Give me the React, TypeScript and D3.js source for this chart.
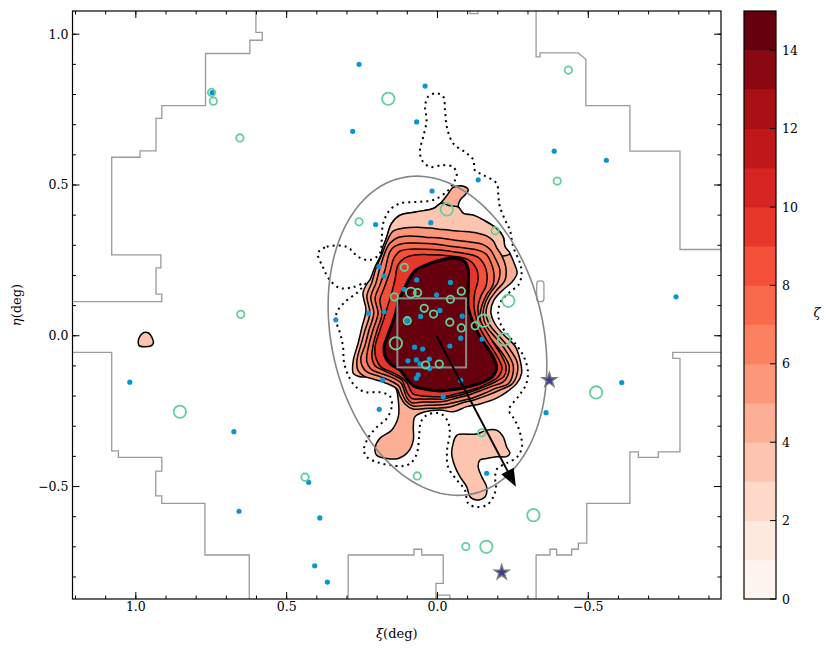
import React from 'react';
import * as d3 from 'd3';

type P = [number, number];

// frame geometry (px)
const W = 830;
const H = 654;
const PLOT = { left: 72.5, right: 721, top: 11, bottom: 599 };
const CBAR = { left: 744, right: 776, top: 11, bottom: 599 };
const FONT = '"DejaVu Serif", "Liberation Serif", serif';

// axes
const XI_DOMAIN: P = [1.21, -0.94];
const ETA_DOMAIN: P = [-0.873, 1.077];
const XI_TICKS = [1.0, 0.5, 0.0, -0.5];
const ETA_TICKS = [1.0, 0.5, 0.0, -0.5];
const ZETA_LEVELS = [0, 1, 2, 3, 4, 5, 6, 7, 8, 9, 10, 11, 12, 13, 14, 15];
const ZETA_TICKS = [0, 2, 4, 6, 8, 10, 12, 14];

// density contours (xi, eta in deg)
const CONTOUR_4: P[] = [
  [0.224, 0.185], [0.207, 0.229], [0.185, 0.273], [0.168, 0.328], [0.152, 0.373], [0.124, 0.4],
  [0.069, 0.411], [0.014, 0.422], [-0.014, 0.444], [-0.036, 0.472], [-0.052, 0.492], [-0.086, 0.496],
  [-0.102, 0.483], [-0.091, 0.467], [-0.075, 0.45], [-0.069, 0.428], [-0.086, 0.406], [-0.119, 0.4],
  [-0.152, 0.384], [-0.196, 0.356], [-0.218, 0.328], [-0.224, 0.295], [-0.24, 0.273], [-0.254, 0.241],
  [-0.264, 0.208], [-0.247, 0.178], [-0.217, 0.152], [-0.187, 0.118], [-0.177, 0.079], [-0.191, 0.039],
  [-0.221, 0.002], [-0.257, -0.034], [-0.274, -0.081], [-0.279, -0.125], [-0.263, -0.158], [-0.229, -0.187],
  [-0.196, -0.207], [-0.141, -0.226], [-0.097, -0.235], [-0.052, -0.252], [-0.008, -0.246], [0.041, -0.252],
  [0.075, -0.269], [0.08, -0.302], [0.08, -0.346], [0.097, -0.385], [0.13, -0.407], [0.168, -0.407],
  [0.202, -0.396], [0.207, -0.373], [0.191, -0.34], [0.152, -0.313], [0.13, -0.269], [0.13, -0.213],
  [0.141, -0.169], [0.18, -0.153], [0.213, -0.136], [0.257, -0.136], [0.279, -0.125], [0.279, -0.081],
  [0.263, -0.025], [0.25, 0.03], [0.237, 0.085], [0.247, 0.141], [0.23, 0.178],
];
const CONTOUR_3_CAP: P[] = [
  [0.185, 0.273], [0.168, 0.328], [0.152, 0.373], [0.124, 0.4], [0.069, 0.411], [0.014, 0.422],
  [-0.014, 0.44], [-0.038, 0.432], [-0.069, 0.427], [-0.086, 0.406], [-0.119, 0.4], [-0.152, 0.384],
  [-0.196, 0.356], [-0.218, 0.328], [-0.224, 0.295], [-0.24, 0.273], [-0.214, 0.264], [-0.008, 0.284],
  [0.164, 0.244],
];
const CONTOUR_5: P[] = [
  [0.204, 0.224], [0.185, 0.268], [0.168, 0.312], [0.147, 0.347], [0.113, 0.357], [0.069, 0.36],
  [0.025, 0.357], [-0.019, 0.352], [-0.075, 0.347], [-0.13, 0.341], [-0.163, 0.331], [-0.185, 0.314],
  [-0.197, 0.291], [-0.214, 0.264], [-0.227, 0.224], [-0.224, 0.185], [-0.194, 0.148], [-0.171, 0.115],
  [-0.161, 0.075], [-0.174, 0.035], [-0.204, -0.001], [-0.234, -0.037], [-0.264, -0.087], [-0.264, -0.127],
  [-0.247, -0.16], [-0.207, -0.18], [-0.167, -0.197], [-0.121, -0.213], [-0.081, -0.223], [-0.041, -0.236],
  [-0.002, -0.24], [0.041, -0.241], [0.081, -0.243], [0.108, -0.226], [0.124, -0.2], [0.134, -0.177],
  [0.171, -0.157], [0.211, -0.144], [0.244, -0.134], [0.264, -0.114], [0.267, -0.081], [0.254, -0.031],
  [0.24, 0.019], [0.224, 0.075], [0.234, 0.132], [0.217, 0.178],
];
const CONTOUR_6: P[] = [
  [0.191, 0.224], [0.171, 0.284], [0.158, 0.307], [0.131, 0.326], [0.091, 0.331], [0.041, 0.327],
  [-0.008, 0.324], [-0.058, 0.317], [-0.108, 0.311], [-0.148, 0.304], [-0.174, 0.287], [-0.191, 0.258],
  [-0.207, 0.218], [-0.201, 0.178], [-0.177, 0.145], [-0.158, 0.108], [-0.151, 0.069], [-0.164, 0.029],
  [-0.191, -0.004], [-0.221, -0.041], [-0.25, -0.094], [-0.25, -0.127], [-0.234, -0.16], [-0.197, -0.173],
  [-0.158, -0.19], [-0.114, -0.207], [-0.075, -0.217], [-0.035, -0.226], [0.002, -0.23], [0.045, -0.231],
  [0.081, -0.233], [0.104, -0.217], [0.118, -0.19], [0.128, -0.167], [0.161, -0.147], [0.201, -0.132],
  [0.234, -0.12], [0.25, -0.1], [0.254, -0.074], [0.24, -0.031], [0.227, 0.019], [0.211, 0.075],
  [0.221, 0.128], [0.204, 0.175],
];
const CONTOUR_7: P[] = [
  [0.174, 0.218], [0.158, 0.278], [0.141, 0.297], [0.108, 0.307], [0.058, 0.307], [0.008, 0.304],
  [-0.041, 0.297], [-0.091, 0.291], [-0.134, 0.284], [-0.161, 0.271], [-0.177, 0.244], [-0.187, 0.208],
  [-0.184, 0.168], [-0.164, 0.138], [-0.148, 0.102], [-0.141, 0.062], [-0.154, 0.022], [-0.177, -0.011],
  [-0.207, -0.047], [-0.237, -0.097], [-0.234, -0.13], [-0.217, -0.154], [-0.181, -0.167], [-0.141, -0.183],
  [-0.101, -0.197], [-0.061, -0.207], [-0.025, -0.217], [0.008, -0.22], [0.048, -0.22], [0.085, -0.222],
  [0.101, -0.207], [0.111, -0.18], [0.121, -0.157], [0.154, -0.137], [0.191, -0.124], [0.221, -0.11],
  [0.234, -0.087], [0.234, -0.064], [0.227, -0.028], [0.214, 0.019], [0.197, 0.075], [0.207, 0.125],
  [0.191, 0.168],
];
const CONTOUR_8: P[] = [
  [0.158, 0.211], [0.144, 0.258], [0.124, 0.281], [0.091, 0.287], [0.041, 0.287], [-0.008, 0.284],
  [-0.058, 0.278], [-0.101, 0.271], [-0.134, 0.261], [-0.154, 0.238], [-0.164, 0.205], [-0.161, 0.165],
  [-0.144, 0.132], [-0.134, 0.092], [-0.141, 0.052], [-0.161, 0.016], [-0.184, -0.021], [-0.207, -0.057],
  [-0.227, -0.1], [-0.221, -0.134], [-0.197, -0.15], [-0.161, -0.167], [-0.128, -0.18], [-0.088, -0.193],
  [-0.048, -0.203], [-0.015, -0.21], [0.018, -0.21], [0.055, -0.21], [0.085, -0.208], [0.098, -0.193],
  [0.108, -0.17], [0.118, -0.147], [0.148, -0.13], [0.181, -0.114], [0.207, -0.1], [0.217, -0.074],
  [0.214, -0.034], [0.201, 0.016], [0.184, 0.072], [0.191, 0.118], [0.177, 0.158],
];
const CONTOUR_9: P[] = [
  [0.141, 0.185], [0.131, 0.234], [0.108, 0.258], [0.075, 0.268], [0.032, 0.269], [-0.008, 0.268],
  [-0.048, 0.264], [-0.088, 0.258], [-0.114, 0.244], [-0.131, 0.218], [-0.134, 0.181], [-0.124, 0.145],
  [-0.121, 0.098], [-0.131, 0.049], [-0.151, 0.006], [-0.174, -0.031], [-0.197, -0.067], [-0.214, -0.107],
  [-0.201, -0.137], [-0.174, -0.154], [-0.141, -0.17], [-0.101, -0.183], [-0.061, -0.193], [-0.025, -0.202],
  [0.008, -0.202], [0.048, -0.2], [0.081, -0.193], [0.091, -0.177], [0.101, -0.157], [0.121, -0.137],
  [0.154, -0.12], [0.187, -0.104], [0.204, -0.074], [0.207, -0.037], [0.194, 0.009], [0.177, 0.059],
  [0.164, 0.102], [0.151, 0.145],
];
const CONTOUR_14: P[] = [
  [0.088, 0.198], [0.071, 0.218], [0.025, 0.24], [-0.019, 0.253], [-0.064, 0.257], [-0.091, 0.245],
  [-0.102, 0.218], [-0.102, 0.152], [-0.102, 0.096], [-0.119, 0.041], [-0.141, -0.003], [-0.163, -0.036],
  [-0.185, -0.07], [-0.196, -0.107], [-0.181, -0.137], [-0.151, -0.154], [-0.118, -0.165], [-0.085, -0.173],
  [-0.041, -0.18], [-0.008, -0.183], [0.035, -0.178], [0.078, -0.167], [0.101, -0.144], [0.124, -0.114],
  [0.158, -0.092], [0.174, -0.067], [0.177, -0.037], [0.167, -0.004], [0.154, 0.03], [0.139, 0.074],
  [0.128, 0.118], [0.108, 0.161],
];
const CONTOUR_SOUTH: P[] = [
  [-0.052, -0.357], [-0.064, -0.33], [-0.13, -0.326], [-0.163, -0.313], [-0.196, -0.313], [-0.218, -0.335],
  [-0.229, -0.368], [-0.24, -0.39], [-0.229, -0.401], [-0.196, -0.401], [-0.163, -0.407], [-0.141, -0.412],
  [-0.135, -0.434], [-0.147, -0.468], [-0.163, -0.501], [-0.158, -0.534], [-0.13, -0.545], [-0.108, -0.534],
  [-0.097, -0.501], [-0.075, -0.468], [-0.058, -0.434], [-0.047, -0.39],
];
const CONTOUR_WEST: P[] = [
  [0.984, 0.002], [0.973, 0.011], [0.959, 0.01], [0.948, -0.003], [0.942, -0.025], [0.951, -0.034],
  [0.987, -0.034], [0.992, -0.025], [0.99, -0.009],
];
const CONTOUR_2_DOTTED: P[] = [
  [0.396, 0.274], [0.367, 0.295], [0.301, 0.295], [0.263, 0.262], [0.224, 0.251], [0.191, 0.273],
  [0.185, 0.317], [0.18, 0.373], [0.158, 0.417], [0.124, 0.439], [0.069, 0.444], [0.014, 0.45],
  [-0.031, 0.478], [-0.052, 0.505], [-0.064, 0.533], [-0.052, 0.56], [-0.019, 0.566], [0.025, 0.56],
  [0.052, 0.583], [0.058, 0.616], [0.047, 0.66], [0.036, 0.715], [0.041, 0.759], [0.031, 0.793],
  [0.003, 0.804], [-0.019, 0.793], [-0.025, 0.748], [-0.031, 0.693], [-0.052, 0.638], [-0.097, 0.605],
  [-0.119, 0.583], [-0.124, 0.549], [-0.152, 0.533], [-0.196, 0.505], [-0.202, 0.461], [-0.207, 0.428],
  [-0.224, 0.384], [-0.24, 0.351], [-0.251, 0.295], [-0.274, 0.24], [-0.279, 0.208], [-0.27, 0.171],
  [-0.24, 0.145], [-0.211, 0.115], [-0.201, 0.075], [-0.211, 0.035], [-0.237, -0.001], [-0.264, -0.034],
  [-0.287, -0.071], [-0.3, -0.12], [-0.293, -0.163], [-0.267, -0.203], [-0.237, -0.246], [-0.257, -0.28],
  [-0.274, -0.323], [-0.28, -0.369], [-0.264, -0.402], [-0.23, -0.422], [-0.197, -0.442], [-0.191, -0.472],
  [-0.194, -0.502], [-0.185, -0.535], [-0.164, -0.561], [-0.13, -0.568], [-0.102, -0.556], [-0.091, -0.512],
  [-0.064, -0.478], [-0.035, -0.435], [-0.032, -0.379], [-0.041, -0.323], [-0.035, -0.286], [-0.018, -0.263],
  [0.002, -0.256], [0.035, -0.263], [0.055, -0.286], [0.061, -0.336], [0.068, -0.389], [0.088, -0.422],
  [0.114, -0.432], [0.158, -0.429], [0.201, -0.419], [0.234, -0.402], [0.244, -0.379], [0.23, -0.339],
  [0.201, -0.303], [0.167, -0.273], [0.151, -0.23], [0.158, -0.2], [0.191, -0.187], [0.237, -0.187],
  [0.27, -0.17], [0.293, -0.137], [0.31, -0.087], [0.313, -0.037], [0.323, 0.009], [0.337, 0.052],
  [0.333, 0.079], [0.307, 0.112], [0.264, 0.145], [0.24, 0.175], [0.28, 0.161], [0.323, 0.158],
  [0.357, 0.185], [0.38, 0.228],
];

// survey footprint edges
const FOOT_NW: P[] = [
  [0.602, 1.1], [0.602, 1.006], [0.581, 1.006], [0.581, 0.98], [0.622, 0.98], [0.622, 0.936],
  [0.769, 0.936], [0.769, 0.763], [0.914, 0.763], [0.914, 0.721], [0.933, 0.721], [0.933, 0.613],
  [0.986, 0.613], [0.986, 0.592], [1.08, 0.592], [1.08, 0.268], [0.917, 0.268], [0.917, 0.225],
  [0.933, 0.225], [0.933, 0.138], [0.914, 0.138], [0.914, 0.113], [1.25, 0.113],
];
const FOOT_SW: P[] = [
  [1.25, -0.055], [1.08, -0.055], [1.08, -0.382], [1.058, -0.382], [1.058, -0.403], [0.914, -0.403],
  [0.914, -0.449], [0.934, -0.449], [0.934, -0.531], [0.914, -0.531], [0.914, -0.556], [0.771, -0.556],
  [0.771, -0.727], [0.624, -0.727], [0.624, -0.9],
];
const FOOT_S: P[] = [
  [0.296, -0.9], [0.296, -0.727], [0.078, -0.727], [0.078, -0.708], [0.052, -0.708], [0.052, -0.727],
  [-0.019, -0.727], [-0.019, -0.821], [0.005, -0.821], [0.005, -0.9],
];
const FOOT_S_NOTCH: P[] = [[0.003, -0.9], [0.003, -0.86], [-0.041, -0.86], [-0.041, -0.9]];
const FOOT_SE: P[] = [
  [-0.327, -0.9], [-0.327, -0.727], [-0.373, -0.727], [-0.373, -0.708], [-0.395, -0.708], [-0.395, -0.727],
  [-0.445, -0.727], [-0.445, -0.708], [-0.467, -0.708], [-0.467, -0.688], [-0.495, -0.688], [-0.495, -0.556],
  [-0.638, -0.556], [-0.638, -0.385], [-0.666, -0.385], [-0.666, -0.403], [-0.732, -0.403], [-0.732, -0.385],
  [-0.804, -0.385], [-0.804, -0.075], [-0.78, -0.075], [-0.78, -0.055], [-0.98, -0.055],
];
const FOOT_NE: P[] = [
  [-0.327, 1.1], [-0.327, 0.925], [-0.34, 0.925], [-0.34, 0.938], [-0.466, 0.938], [-0.492, 0.917],
  [-0.492, 0.763], [-0.638, 0.763], [-0.638, 0.612], [-0.804, 0.612], [-0.804, 0.286], [-0.98, 0.286],
];
const FOOT_N_NOTCH: P[] = [[-0.108, 1.1], [-0.108, 1.068], [-0.134, 1.068], [-0.134, 1.1]];
const FOOT_HOLE: [P, P] = [[-0.329, 0.182], [-0.353, 0.113]];

// overlays
const ELLIPSE = { xi: 0, eta: 0, a: 0.537, b: 0.351, angle: 12.9 };
const BOX: [P, P] = [[0.133, 0.124], [-0.095, -0.105]];
const ARROW: [P, P] = [[0.003, -0.001], [-0.26, -0.501]];
const STARS: P[] = [[-0.371, -0.147], [-0.213, -0.785]];

const BLUE: P[] = [
  [0.26, 0.9], [0.041, 0.828], [0.069, 0.709], [0.281, 0.678], [0.747, 0.806], [0.018, 0.48],
  [0.205, 0.369], [0.022, 0.375], [0.194, 0.229], [0.177, 0.198], [0.069, 0.185], [-0.043, 0.177],
  [0.111, 0.154], [0.003, 0.136], [0.228, 0.074], [0.177, 0.08], [0.056, 0.064], [-0.008, 0.084],
  [0.337, 0.053], [-0.082, 0.065], [0.1, 0.051], [-0.077, -0.008], [-0.148, -0.011], [-0.041, -0.034],
  [0.076, -0.038], [0.049, -0.044], [0.098, -0.083], [0.07, -0.08], [0.027, -0.077], [0.058, -0.093],
  [0.026, -0.109], [0.064, -0.13], [0.07, -0.141], [-0.077, -0.148], [0.182, -0.147], [-0.019, -0.202],
  [0.193, -0.244], [-0.135, 0.517], [-0.387, 0.612], [-0.56, 0.582], [-0.791, 0.129], [-0.611, -0.155],
  [-0.36, -0.255], [-0.163, -0.456], [1.02, -0.154], [0.675, -0.318], [0.427, -0.486], [0.658, -0.582],
  [0.39, -0.604], [0.407, -0.763], [0.365, -0.817],
];
// [xi, eta, grade]
const GREEN: [number, number, number][] = [
  [0.749, 0.807, 1], [0.743, 0.778, 1], [0.655, 0.656, 1], [0.163, 0.786, 3], [0.26, 0.378, 1],
  [-0.031, 0.419, 3], [0.11, 0.227, 1], [0.143, 0.129, 1], [0.088, 0.143, 2], [0.066, 0.143, 1],
  [0.044, 0.091, 1], [0.013, 0.072, 1], [-0.043, 0.121, 1], [-0.079, 0.148, 1], [-0.041, 0.045, 1],
  [-0.079, 0.026, 1], [-0.125, 0.033, 1], [-0.153, 0.05, 3], [0.1, 0.05, 1], [0.138, -0.025, 3],
  [0.039, -0.097, 1], [-0.006, -0.094, 1], [-0.235, 0.116, 3], [-0.22, -0.012, 3], [-0.434, 0.881, 1],
  [-0.397, 0.513, 1], [-0.191, 0.348, 1], [0.652, 0.071, 1], [0.854, -0.252, 3], [0.439, -0.469, 1],
  [0.067, -0.465, 1], [-0.147, -0.322, 1], [-0.526, -0.188, 3], [-0.318, -0.595, 3], [-0.094, -0.699, 1],
  [-0.162, -0.7, 3],
];

const FILLED: { level: number; pts: P[]; heavy?: boolean }[] = [
  { level: 4, pts: CONTOUR_4 },
  { level: 3, pts: CONTOUR_3_CAP },
  { level: 5, pts: CONTOUR_5 },
  { level: 6, pts: CONTOUR_6 },
  { level: 7, pts: CONTOUR_7 },
  { level: 8, pts: CONTOUR_8 },
  { level: 9, pts: CONTOUR_9 },
  { level: 14, pts: CONTOUR_14, heavy: true },
  { level: 3, pts: CONTOUR_SOUTH },
  { level: 3, pts: CONTOUR_WEST },
];

const bandColor = (lvl: number) => d3.interpolateReds(lvl / 14);
const fmt = (v: number) => d3.format('.1f')(v).replace('-', '\u2212');

export default function App() {
  const x = d3.scaleLinear().domain(XI_DOMAIN).range([PLOT.left, PLOT.right]);
  const y = d3.scaleLinear().domain(ETA_DOMAIN).range([PLOT.bottom, PLOT.top]);
  const z = d3.scaleLinear().domain([0, 15]).range([CBAR.bottom, CBAR.top]);
  const rScale = d3.scaleLinear().domain([1, 3]).range([3.7, 6.2]);

  const smooth = d3.line<P>().x(d => x(d[0])).y(d => y(d[1])).curve(d3.curveCatmullRomClosed.alpha(0.5));
  const steps = d3.line<P>().x(d => x(d[0])).y(d => y(d[1]));

  // ellipse outline in data space
  const th = (ELLIPSE.angle * Math.PI) / 180;
  const ellPts: P[] = d3.range(0, 360, 3).map(deg => {
    const t = (deg * Math.PI) / 180;
    return [
      ELLIPSE.xi + ELLIPSE.a * Math.cos(t) * Math.sin(th) + ELLIPSE.b * Math.sin(t) * Math.cos(th),
      ELLIPSE.eta + ELLIPSE.a * Math.cos(t) * Math.cos(th) - ELLIPSE.b * Math.sin(t) * Math.sin(th),
    ];
  });
  const ellPath = d3.line<P>().x(d => x(d[0])).y(d => y(d[1])).curve(d3.curveLinearClosed)(ellPts);

  // arrow
  const a0 = [x(ARROW[0][0]), y(ARROW[0][1])];
  const a1 = [x(ARROW[1][0]), y(ARROW[1][1])];
  const len = Math.hypot(a1[0] - a0[0], a1[1] - a0[1]);
  const ux = (a1[0] - a0[0]) / len;
  const uy = (a1[1] - a0[1]) / len;
  const hl = 18;
  const hw = 7;
  const bx = a1[0] - ux * hl;
  const by = a1[1] - uy * hl;
  const head = `M${a1[0]},${a1[1]}L${bx - uy * hw},${by + ux * hw}L${bx + uy * hw},${by - ux * hw}Z`;

  const star = d3.symbol().type(d3.symbolStar).size(66)();

  const xMinor = x.ticks(20);
  const yMinor = y.ticks(20);
  const plotW = PLOT.right - PLOT.left;
  const plotH = PLOT.bottom - PLOT.top;

  return (
    <svg width={W} height={H} style={{ position: 'absolute', left: 0, top: 0, background: '#fff' }} fontFamily={FONT}>
      <defs>
        <clipPath id="plot-clip">
          <rect x={PLOT.left} y={PLOT.top} width={plotW} height={plotH} />
        </clipPath>
      </defs>

      <g clipPath="url(#plot-clip)">
        {/* footprint */}
        <g fill="none" stroke="#9a9a9a" strokeWidth={1.3}>
          {[FOOT_NW, FOOT_SW, FOOT_S, FOOT_S_NOTCH, FOOT_SE, FOOT_NE, FOOT_N_NOTCH].map((f, i) => (
            <path key={i} d={steps(f) || ''} />
          ))}
          <rect
            x={x(FOOT_HOLE[0][0])}
            y={y(FOOT_HOLE[0][1])}
            width={x(FOOT_HOLE[1][0]) - x(FOOT_HOLE[0][0])}
            height={y(FOOT_HOLE[1][1]) - y(FOOT_HOLE[0][1])}
            rx={3}
          />
        </g>

        {/* filled density contours */}
        {FILLED.map((c, i) => (
          <path
            key={i}
            d={smooth(c.pts) || ''}
            fill={bandColor(c.level)}
            stroke="#000"
            strokeWidth={c.heavy ? 3 : 1.5}
            strokeLinejoin="round"
          />
        ))}
        <path
          d={smooth(CONTOUR_2_DOTTED) || ''}
          fill="none"
          stroke="#000"
          strokeWidth={2}
          strokeDasharray="2 4"
        />

        <path d={ellPath || ''} fill="none" stroke="#858585" strokeWidth={1.6} />
        <rect
          x={x(BOX[0][0])}
          y={y(BOX[0][1])}
          width={x(BOX[1][0]) - x(BOX[0][0])}
          height={y(BOX[1][1]) - y(BOX[0][1])}
          fill="none"
          stroke="#8a8a8a"
          strokeWidth={2}
        />

        {BLUE.map((d, i) => (
          <circle key={i} cx={x(d[0])} cy={y(d[1])} r={2.6} fill="#0a96d1" />
        ))}
        {GREEN.map((d, i) => (
          <circle key={i} cx={x(d[0])} cy={y(d[1])} r={rScale(d[2])} fill="none" stroke="#63cf99" strokeWidth={1.8} />
        ))}

        <line x1={a0[0]} y1={a0[1]} x2={bx} y2={by} stroke="#000" strokeWidth={2} />
        <path d={head} fill="#000" />

        {STARS.map((d, i) => (
          <path
            key={i}
            d={star || ''}
            transform={`translate(${x(d[0])},${y(d[1])})`}
            fill="#3a3a9e"
            stroke="#7a7a7a"
            strokeWidth={1.4}
          />
        ))}
      </g>

      {/* frame + ticks */}
      <rect x={PLOT.left} y={PLOT.top} width={plotW} height={plotH} fill="none" stroke="#000" strokeWidth={1.2} />
      <g stroke="#000" strokeWidth={1}>
        {xMinor.map(t => (
          <g key={`xm${t}`}>
            <line x1={x(t)} x2={x(t)} y1={PLOT.bottom} y2={PLOT.bottom - 3.5} />
            <line x1={x(t)} x2={x(t)} y1={PLOT.top} y2={PLOT.top + 3.5} />
          </g>
        ))}
        {XI_TICKS.map(t => (
          <g key={`xM${t}`}>
            <line x1={x(t)} x2={x(t)} y1={PLOT.bottom} y2={PLOT.bottom - 7} />
            <line x1={x(t)} x2={x(t)} y1={PLOT.top} y2={PLOT.top + 7} />
          </g>
        ))}
        {yMinor.map(t => (
          <g key={`ym${t}`}>
            <line x1={PLOT.left} x2={PLOT.left + 3.5} y1={y(t)} y2={y(t)} />
            <line x1={PLOT.right} x2={PLOT.right - 3.5} y1={y(t)} y2={y(t)} />
          </g>
        ))}
        {ETA_TICKS.map(t => (
          <g key={`yM${t}`}>
            <line x1={PLOT.left} x2={PLOT.left + 7} y1={y(t)} y2={y(t)} />
            <line x1={PLOT.right} x2={PLOT.right - 7} y1={y(t)} y2={y(t)} />
          </g>
        ))}
      </g>
      <g fontSize={12.5} fill="#000">
        {XI_TICKS.map(t => (
          <text key={`xl${t}`} x={x(t)} y={PLOT.bottom + 12} textAnchor="middle">
            {fmt(t)}
          </text>
        ))}
        {ETA_TICKS.map(t => (
          <text key={`yl${t}`} x={PLOT.left - 4} y={y(t)} dy="0.36em" textAnchor="end">
            {fmt(t)}
          </text>
        ))}
      </g>
      <text x={(PLOT.left + PLOT.right) / 2} y={638} textAnchor="middle" fontSize={13}>
        <tspan fontStyle="italic">ξ</tspan>(deg)
      </text>
      <text
        transform={`translate(21,${(PLOT.top + PLOT.bottom) / 2}) rotate(-90)`}
        textAnchor="middle"
        fontSize={13}
      >
        <tspan fontStyle="italic">η</tspan>(deg)
      </text>

      {/* colorbar */}
      <g>
        {ZETA_LEVELS.slice(0, -1).map(l => (
          <rect
            key={l}
            x={CBAR.left}
            y={z(l + 1)}
            width={CBAR.right - CBAR.left}
            height={z(l) - z(l + 1) + 0.5}
            fill={bandColor(l)}
          />
        ))}
        <rect
          x={CBAR.left}
          y={CBAR.top}
          width={CBAR.right - CBAR.left}
          height={CBAR.bottom - CBAR.top}
          fill="none"
          stroke="#000"
          strokeWidth={1.2}
        />
        {ZETA_TICKS.map(t => (
          <g key={t}>
            <line x1={CBAR.right} x2={CBAR.right - 6} y1={z(t)} y2={z(t)} stroke="#000" strokeWidth={1} />
            <text x={CBAR.right + 6} y={z(t)} dy="0.36em" fontSize={12.5}>
              {t}
            </text>
          </g>
        ))}
        <text x={817} y={317} fontSize={13} fontStyle="italic" textAnchor="middle">
          ζ
        </text>
      </g>
    </svg>
  );
}
